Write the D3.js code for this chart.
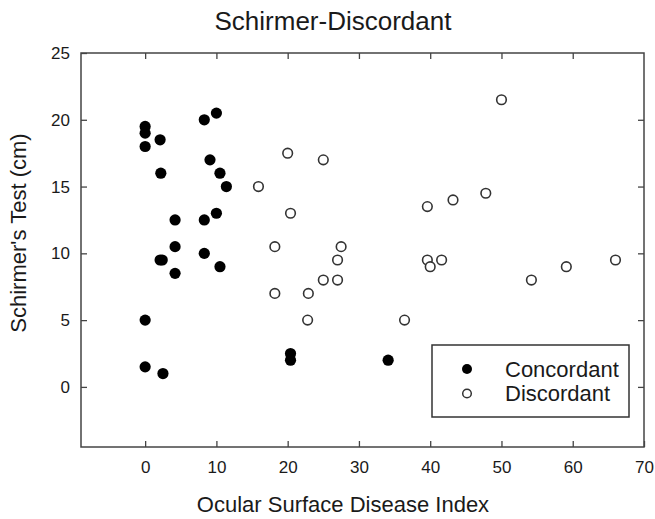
<!DOCTYPE html>
<html>
<head>
<meta charset="utf-8">
<script src="https://cdn.jsdelivr.net/npm/d3@7"></script>
<style>
  body { margin: 0; background: #fff; }
  svg { display: block; font-family: "Liberation Sans", Arial, sans-serif; }
</style>
</head>
<body>
<svg id="chart" width="655" height="519"></svg>
<script>
// ---- data ----
const concordantX = [0, 0, 0, 2.1, 2.2, 8.3, 10.0, 9.1, 10.5, 11.4, 4.2, 8.3, 10.0, 4.2, 2.1, 2.4, 4.2, 8.3, 10.5, 0, 0, 2.5, 20.4, 20.4, 34.1];
const concordantY = [19.5, 19.0, 18.0, 18.5, 16.0, 20.0, 20.5, 17.0, 16.0, 15.0, 12.5, 12.5, 13.0, 10.5, 9.5, 9.5, 8.5, 10.0, 9.0, 5.0, 1.5, 1.0, 2.5, 2.0, 2.0];
const discordantX = [15.9, 20.0, 20.4, 25.0, 39.6, 43.2, 47.8, 50.0, 66.0, 59.1, 54.2, 18.2, 18.2, 22.9, 27.5, 27.0, 25.0, 27.0, 22.8, 36.4, 39.6, 40.0, 41.6];
const discordantY = [15.0, 17.5, 13.0, 17.0, 13.5, 14.0, 14.5, 21.5, 9.5, 9.0, 8.0, 10.5, 7.0, 7.0, 10.5, 9.5, 8.0, 8.0, 5.0, 5.0, 9.5, 9.0, 9.5];
const xTicks = [0, 10, 20, 30, 40, 50, 60, 70];
const yTicks = [0, 5, 10, 15, 20, 25];
const seriesNames = ["Concordant", "Discordant"];
const titleText = "Schirmer-Discordant";
const xTitle = "Ocular Surface Disease Index";
const yTitle = "Schirmer's Test (cm)";

// ---- layout ----
(function () {
const svg = d3.select("#chart");
const pL = 81, pR = 644, pT = 53, pB = 447;
const x = d3.scaleLinear().domain([-9, 70]).range([pL, pR]);
const y = d3.scaleLinear().domain([-4.5, 25]).range([pB, pT]);
const axisColor = "#444";
const textColor = "#1a1a1a";

// frame
svg.append("rect")
  .attr("x", pL).attr("y", pT)
  .attr("width", pR - pL).attr("height", pB - pT)
  .attr("fill", "none").attr("stroke", axisColor).attr("stroke-width", 1.5);

// axes with inward ticks
const tickLen = 6;
const gB = svg.append("g").attr("transform", `translate(0,${pB})`)
  .call(d3.axisBottom(x).tickValues(xTicks).tickSize(-tickLen).tickPadding(14).tickFormat(d3.format("d")));
const gT = svg.append("g").attr("transform", `translate(0,${pT})`)
  .call(d3.axisTop(x).tickValues(xTicks.filter(d => d < 70)).tickSize(-tickLen).tickFormat(""));
const gL = svg.append("g").attr("transform", `translate(${pL},0)`)
  .call(d3.axisLeft(y).tickValues(yTicks).tickSize(-tickLen).tickPadding(11).tickFormat(d3.format("d")));
const gR = svg.append("g").attr("transform", `translate(${pR},0)`)
  .call(d3.axisRight(y).tickValues(yTicks.filter(d => d < 25)).tickSize(-tickLen).tickFormat(""));
[gB, gT, gL, gR].forEach(g => {
  g.select(".domain").remove();
  g.selectAll(".tick line").attr("stroke", axisColor).attr("stroke-width", 1.3);
  g.selectAll(".tick text").attr("fill", textColor).style("font-size", "17px")
    .style("font-family", "'Liberation Sans', Arial, sans-serif");
});
gB.selectAll(".tick text").attr("dy", "0.71em");

// points
const rad = 5.6;
svg.append("g").selectAll("circle")
  .data(d3.range(discordantX.length))
  .join("circle")
  .attr("cx", i => x(discordantX[i])).attr("cy", i => y(discordantY[i]))
  .attr("r", 4.8).attr("fill", "#fff").attr("stroke", "#333").attr("stroke-width", 1.6);
svg.append("g").selectAll("circle")
  .data(d3.range(concordantX.length))
  .join("circle")
  .attr("cx", i => x(concordantX[i])).attr("cy", i => y(concordantY[i]))
  .attr("r", rad).attr("fill", "#000");

// legend
const lg = svg.append("g");
lg.append("rect").attr("x", 432).attr("y", 345).attr("width", 197).attr("height", 72)
  .attr("fill", "#fff").attr("stroke", "#333").attr("stroke-width", 1.5);
seriesNames.forEach((name, i) => {
  const cy = 369 + i * 24.5;
  if (i === 0) {
    lg.append("circle").attr("cx", 467).attr("cy", cy).attr("r", 5).attr("fill", "#000");
  } else {
    lg.append("circle").attr("cx", 467).attr("cy", cy).attr("r", 4.3)
      .attr("fill", "#fff").attr("stroke", "#333").attr("stroke-width", 1.5);
  }
  lg.append("text").attr("x", 505).attr("y", cy + 7.5).text(name)
    .attr("fill", textColor).style("font-size", "22px");
});

// titles
svg.append("text").attr("x", 333).attr("y", 30).attr("text-anchor", "middle")
  .attr("fill", textColor).style("font-size", "26px").text(titleText);
svg.append("text").attr("x", 343).attr("y", 512).attr("text-anchor", "middle")
  .attr("fill", textColor).style("font-size", "22px").text(xTitle);
svg.append("text").attr("transform", "translate(26,233) rotate(-90)").attr("text-anchor", "middle")
  .attr("fill", textColor).style("font-size", "22px").text(yTitle);
})();
</script>
</body>
</html>
